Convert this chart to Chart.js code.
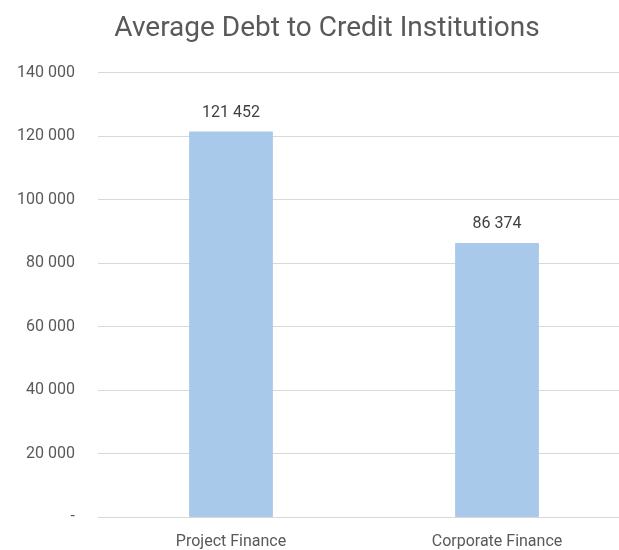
<!DOCTYPE html>
<html>
<head>
<meta charset="utf-8">
<script src="https://cdn.jsdelivr.net/npm/chart.js@4/dist/chart.umd.min.js"></script>
<style>
  html, body { margin: 0; padding: 0; background: #fff; overflow: hidden; }
  #wrap { width: 654px; height: 550px; }
</style>
</head>
<body>
<div id="wrap"><canvas id="c" width="654" height="550"></canvas></div>
<script>
const categories = ["Project Finance", "Corporate Finance"];
const debtValues = [121452, 86374];
const tickValues = [0, 20000, 40000, 60000, 80000, 100000, 120000, 140000];

function fmt(v) {
  if (v === 0) return "-";
  return String(Math.round(v)).replace(/\B(?=(\d{3})+(?!\d))/g, " ");
}

const valueLabels = {
  id: "valueLabels",
  afterDatasetsDraw(chart) {
    const ctx = chart.ctx;
    const meta = chart.getDatasetMeta(0);
    ctx.save();
    ctx.font = "16px Roboto";
    ctx.fillStyle = "#404040";
    ctx.textAlign = "center";
    ctx.textBaseline = "alphabetic";
    meta.data.forEach((bar, i) => {
      const p = bar.getProps(["x", "y"], true);
      ctx.fillText(fmt(chart.data.datasets[0].data[i]), p.x, p.y - 15);
    });
    ctx.restore();
  }
};

new Chart(document.getElementById("c"), {
  type: "bar",
  data: {
    labels: categories,
    datasets: [{
      data: debtValues,
      backgroundColor: "#a9c9eb",
      borderWidth: 0,
      barPercentage: 0.315,
      categoryPercentage: 1
    }]
  },
  options: {
    responsive: false,
    animation: false,
    layout: { padding: { left: 0, right: 0, top: 0, bottom: -17 } },
    plugins: {
      legend: { display: false },
      tooltip: { enabled: false },
      title: {
        display: true,
        text: "Average Debt to Credit Institutions",
        color: "#595959",
        font: { family: "Roboto", size: 28, weight: "normal" },
        padding: { top: 12, bottom: 27 }
      }
    },
    scales: {
      x: {
        grid: { display: false, drawTicks: false },
        border: { color: "#d9d9d9", width: 1 },
        ticks: { color: "#595959", font: { family: "Roboto", size: 16 }, padding: 15 }
      },
      y: {
        min: 0,
        max: 140000,
        afterBuildTicks(axis) { axis.ticks = tickValues.map(v => ({ value: v })); },
        afterFit(axis) { axis.width = 98; },
        grid: { color: "#d9d9d9", drawTicks: false },
        border: { display: false },
        ticks: {
          color: "#595959",
          font: { family: "Roboto", size: 16 },
          padding: 23,
          callback: v => fmt(v)
        }
      },
      // empty right-hand margin axis
      yRight: {
        position: "right",
        min: 0,
        max: 140000,
        afterFit(axis) { axis.width = 24; },
        grid: { display: false, drawTicks: false },
        border: { display: false },
        ticks: { display: false }
      }
    }
  },
  plugins: [valueLabels]
});
</script>
</body>
</html>
